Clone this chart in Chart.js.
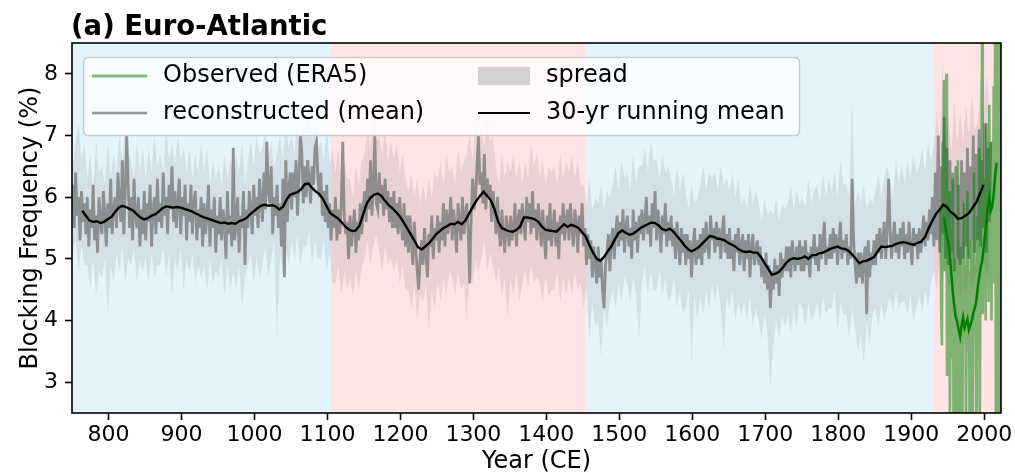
<!DOCTYPE html>
<html>
<head>
<meta charset="utf-8">
<script src="https://cdn.jsdelivr.net/npm/chart.js@4.4.1/dist/chart.umd.min.js"></script>
<style>
  html, body { margin: 0; padding: 0; background: #ffffff; }
  #wrap { width: 1015px; height: 472px; position: relative; }
  canvas { display: block; }
</style>
</head>
<body>
<div id="wrap"><canvas id="chart" width="1015" height="472"></canvas></div>
<script>
// ---- text ----
const titleText = '(a) Euro-Atlantic';
const xLabel = 'Year (CE)';
const yLabel = 'Blocking Frequency (%)';
const legendLabels = ['Observed (ERA5)', 'reconstructed (mean)', 'spread', '30-yr running mean'];

// ---- axes ----
const xTicks = [800, 900, 1000, 1100, 1200, 1300, 1400, 1500, 1600, 1700, 1800, 1900, 2000];
const yTicks = [3, 4, 5, 6, 7, 8];
const xRange = [750, 2023];
const yRange = [2.5, 8.5];

// ---- climate periods shaded behind the data ----
const periodStart = [750, 1105, 1455, 1930];
const periodEnd   = [1105, 1455, 1930, 2023];
const periodKind  = ['cool', 'warm', 'cool', 'warm'];

// ---- reconstructed mean, every 2nd year from 751 ----
const reconStart = 751, reconStep = 2;
const recon = [
  6.2,5.5,6.4,5.7,6.0,5.3,6.1,5.6,5.9,5.4,
  6.0,5.2,5.8,5.5,6.2,5.3,5.7,5.1,6.0,5.6,
  5.4,6.1,5.7,5.2,5.9,5.5,6.3,5.4,5.8,6.0,
  5.5,6.4,5.9,5.6,6.6,5.4,6.1,7.0,6.2,5.5,
  6.0,5.3,6.3,5.7,5.5,6.0,5.2,5.8,5.4,6.1,
  5.3,5.9,5.6,6.2,5.2,5.8,6.0,5.4,6.3,5.6,
  5.9,5.5,6.4,5.7,6.0,5.4,6.2,5.8,6.5,5.6,
  6.1,5.5,5.9,6.3,5.4,6.0,5.7,6.2,5.3,5.9,
  5.6,6.2,5.4,5.9,6.1,5.3,5.8,5.5,6.0,5.2,
  5.9,5.4,5.7,6.2,5.2,5.8,5.5,6.0,5.1,5.7,
  5.4,6.0,5.3,5.8,5.6,5.0,6.1,5.4,5.7,5.2,
  6.8,5.3,5.6,6.0,5.1,5.7,5.5,6.1,4.9,5.8,
  5.5,6.1,5.8,5.4,6.2,5.7,6.0,5.5,6.3,5.9,
  5.6,6.4,5.8,6.9,6.1,5.9,6.5,5.4,6.0,5.7,
  6.2,5.5,5.9,5.2,6.3,4.7,6.6,5.6,6.1,6.4,
  5.8,6.4,6.0,6.6,5.7,6.3,7.0,6.7,5.9,6.5,
  6.0,6.6,6.3,5.9,6.5,6.2,6.8,6.9,6.3,6.0,
  6.4,5.7,6.1,5.6,6.2,5.5,5.9,5.3,5.8,5.5,
  6.0,5.3,5.8,5.4,5.9,6.9,5.7,5.4,5.6,5.0,
  5.7,5.2,5.5,5.8,5.1,5.6,5.3,5.9,5.4,5.8,
  6.1,5.6,6.3,5.8,6.6,5.7,6.2,7.0,5.9,5.8,
  6.4,5.9,6.2,5.7,6.3,5.8,6.1,5.6,6.0,5.5,
  6.1,5.5,5.9,5.4,6.0,5.6,5.3,5.9,5.2,5.7,
  5.1,5.7,5.3,4.9,5.6,5.2,4.8,4.5,5.0,5.3,
  4.9,5.5,5.1,4.7,5.4,5.2,5.7,5.0,5.5,5.3,
  5.7,5.1,5.6,5.3,5.9,5.2,5.8,5.4,5.6,6.0,
  5.3,5.8,5.5,5.1,5.9,5.6,5.3,6.0,5.4,5.7,
  5.9,5.4,4.6,5.7,6.3,5.8,6.0,6.5,7.0,6.2,
  6.4,5.9,6.7,5.8,6.3,6.0,6.2,5.6,6.1,5.8,
  5.4,6.0,5.5,5.2,5.8,5.4,5.1,5.7,5.5,5.2,
  5.7,5.3,5.5,5.9,5.2,5.6,5.8,5.4,5.9,5.6,
  5.3,6.0,5.6,5.9,5.4,6.1,5.5,5.8,5.3,5.9,
  5.6,5.2,5.8,5.4,5.0,5.7,5.3,5.9,5.2,5.5,
  5.8,5.2,5.6,5.0,5.7,5.4,5.9,5.3,5.6,5.8,
  5.3,5.9,5.5,5.2,5.8,5.6,5.1,5.7,5.4,5.9,
  5.2,5.5,4.9,5.4,5.0,5.3,4.7,5.2,4.9,4.6,
  5.2,4.7,5.0,4.5,4.2,4.9,5.1,5.4,4.8,5.3,
  5.5,5.0,5.4,5.7,5.2,5.6,5.3,5.8,5.1,5.5,
  5.7,5.2,5.5,5.0,5.8,5.3,5.6,5.1,5.7,5.4,
  5.8,5.3,5.6,6.0,5.4,5.7,5.2,5.9,5.5,6.1,
  5.3,5.8,5.5,5.1,5.7,5.4,5.9,5.2,5.6,5.3,
  5.7,5.2,5.5,5.0,5.6,5.3,4.9,5.5,5.1,5.4,
  4.9,5.4,5.0,5.3,4.7,5.2,5.5,4.9,5.3,5.0,
  5.4,4.9,5.5,5.1,5.6,5.2,5.0,5.7,5.3,5.5,
  5.1,5.6,5.2,5.5,5.0,5.4,5.7,5.1,5.4,5.0,
  5.5,5.0,5.3,4.8,5.4,5.1,5.5,4.9,5.2,5.4,
  4.8,5.3,5.0,5.4,4.7,5.2,5.4,4.9,5.1,5.3,
  4.9,5.2,4.7,5.0,4.6,5.1,4.5,4.9,4.2,4.8,
  4.5,5.0,4.6,4.9,4.4,5.1,4.7,5.0,4.8,5.2,
  4.8,5.2,4.7,5.3,5.0,4.8,5.2,4.9,5.3,4.8,
  5.2,4.8,5.3,4.9,5.1,4.7,5.2,5.0,5.4,4.9,
  5.2,4.8,5.4,5.0,5.3,5.6,4.9,5.2,5.0,5.4,
  5.0,5.5,5.1,5.4,4.9,5.3,5.6,5.0,5.3,5.1,
  5.4,4.9,5.2,5.0,6.3,5.3,4.9,4.6,5.1,4.7,
  5.1,4.6,5.0,5.2,4.1,5.3,4.7,5.1,4.9,5.3,
  4.9,5.4,5.1,5.5,5.0,5.3,5.6,5.0,5.4,6.3,
  5.5,5.0,5.3,5.6,5.1,5.4,5.0,5.5,5.2,5.6,
  5.0,5.4,5.1,5.6,5.2,4.9,5.5,5.2,5.4,5.0,
  5.5,5.1,5.4,5.7,5.2,5.6,5.3,5.8,5.4,6.0,
  5.2,6.4,5.3,7.0,5.1,6.5,5.4,7.3,5.0,6.8,
  4.9,6.6,5.1,6.3,4.8,6.5,5.0,6.2,4.9,6.6,
  5.0,6.4,5.2,6.8,5.0,6.5,5.3,7.0,5.1,6.7,
  5.3,7.1,5.2,6.6,5.5,7.2,5.1,6.8,5.6,6.9
];

// ---- ensemble spread (lower / upper edge), every 4th year from 751 ----
const spreadStart = 751, spreadStep = 4;
const spreadLow = [
  5.1,5.3,4.8,5.2,4.9, 4.9,4.5,5.0,4.4,4.8, 4.7,5.0,4.1,4.9,4.6, 5.1,4.8,5.2,4.6,5.0,
  4.9,5.2,4.6,5.0,4.8, 5.0,4.6,5.1,4.7,4.9, 4.9,5.2,4.7,5.1,4.4, 5.0,4.8,5.2,4.5,5.0,
  4.8,5.1,4.6,4.9,4.7, 4.9,4.5,5.0,4.6,4.8, 4.7,5.0,4.4,4.9,4.5, 4.8,4.5,4.9,4.2,4.7,
  4.9,5.1,4.6,5.0,4.7, 4.9,5.2,4.7,5.0,5.3, 3.7,5.1,4.8,5.2,4.9, 5.3,5.0,5.4,4.9,5.2,
  5.2,5.5,4.9,5.3,5.0, 5.0,5.3,4.8,5.1,4.6, 4.6,4.9,4.4,4.8,4.5, 4.7,4.4,4.8,4.5,4.9,
  5.0,5.3,4.9,5.2,5.4, 5.1,4.8,5.2,4.9,5.0, 4.8,5.0,4.6,4.9,4.5, 4.5,4.2,4.6,4.0,4.4,
  4.3,4.6,3.8,4.5,4.2, 4.6,4.3,4.7,4.4,4.8, 4.7,4.4,4.8,4.5,4.6, 4.0,4.8,4.6,5.0,4.8,
  5.0,5.3,4.8,5.1,4.9, 4.6,4.9,4.4,4.7,4.0, 4.7,4.4,4.8,4.3,4.6, 4.8,4.5,4.9,4.6,4.7,
  4.6,4.3,4.7,4.4,4.5, 4.5,4.8,4.3,4.7,4.4, 4.7,4.4,4.8,4.5,4.6, 4.2,4.5,3.7,4.3,3.9,
  4.0,3.4,4.2,3.9,4.3, 4.5,4.2,4.6,4.3,4.7, 4.6,4.3,4.7,4.4,3.7, 4.6,4.9,4.4,4.8,4.5,
  4.5,4.8,4.4,4.7,4.3, 4.4,4.7,4.2,4.5,4.1, 4.2,4.5,3.3,4.4,4.0, 4.4,4.1,4.5,4.2,4.6,
  4.3,4.6,4.2,3.5,4.4, 4.2,4.5,4.0,4.3,4.1, 4.3,4.0,4.4,3.9,4.2, 4.0,3.7,4.1,3.8,2.9,
  3.6,4.0,3.7,4.1,3.9, 4.1,3.8,4.2,3.9,4.3, 4.2,3.9,4.3,4.0,4.1, 4.3,4.0,4.4,4.1,4.2,
  4.2,4.5,3.8,4.3,4.1, 4.1,3.7,4.2,3.9,3.5, 3.8,3.3,4.0,3.6,4.1, 4.2,3.9,4.3,4.0,4.2,
  4.4,4.1,4.5,4.2,4.3, 4.3,4.1,4.4,4.0,4.2, 4.4,4.1,4.5,4.2,4.6, 4.8,4.5,5.0,4.6,4.9,
  4.5,4.8,4.4,4.7,4.3, 4.6,4.4,4.8,4.5,4.7, 4.8,4.6,5.0,4.7,4.9
];
const spreadHigh = [
  6.5,6.9,7.2,6.6,6.9, 6.3,6.7,6.1,6.9,6.4, 6.5,6.2,6.9,6.3,6.7, 6.4,7.0,6.6,7.2,6.7,
  6.6,6.3,6.9,6.4,6.8, 6.3,6.8,6.4,7.0,6.5, 6.7,6.4,7.1,6.6,6.9, 6.5,7.0,6.6,6.8,6.4,
  6.8,6.3,6.7,6.4,6.9, 6.4,6.8,6.2,6.6,6.3, 6.5,6.2,6.7,6.3,6.6, 6.3,6.7,6.4,6.9,6.2,
  6.6,6.9,6.5,7.0,6.7, 6.8,7.1,6.6,6.9,6.5, 6.7,7.0,6.6,7.2,6.8, 7.0,6.7,7.3,6.9,7.2,
  7.1,7.4,6.9,7.3,6.8, 6.9,6.6,7.1,6.5,6.8, 6.4,6.8,6.2,6.6,6.3, 6.3,6.0,6.5,6.2,6.6,
  6.7,7.1,6.8,7.4,6.9, 7.0,6.7,7.1,6.6,6.9, 6.6,6.9,6.4,6.7,6.3, 6.1,6.4,6.0,6.3,5.9,
  6.2,5.9,6.3,6.0,6.4, 6.3,6.6,6.2,6.7,6.4, 6.5,6.2,6.8,6.4,6.6, 6.7,7.0,6.6,7.2,6.8,
  7.1,6.8,7.3,6.9,7.0, 6.5,6.2,6.7,6.3,6.6, 6.4,6.7,6.3,6.6,6.2, 6.6,6.3,6.9,6.5,6.7,
  6.3,6.6,6.2,6.5,6.4, 6.5,6.2,6.7,6.3,6.6, 6.4,6.7,6.3,6.6,6.2, 6.2,5.9,6.3,5.8,6.0,
  5.9,6.2,5.8,6.1,6.0, 6.2,6.5,6.1,6.6,6.3, 6.4,6.1,6.7,6.2,6.5, 6.5,6.8,6.4,6.9,6.6,
  6.6,6.3,6.7,6.4,6.5, 6.3,6.0,6.5,6.1,6.4, 6.1,5.8,6.2,5.9,6.0, 6.2,6.5,6.1,6.4,6.3,
  6.4,6.1,6.5,6.2,6.3, 6.1,6.4,6.0,6.3,5.9, 6.0,5.8,6.2,5.9,6.1, 5.9,5.6,6.0,5.7,5.8,
  5.7,6.0,5.6,5.9,5.8, 5.9,6.2,5.8,6.1,5.9, 6.0,5.8,6.3,5.9,6.1, 6.2,5.9,6.4,6.0,6.3,
  6.1,6.4,6.0,6.6,6.2, 6.2,6.0,7.6,5.9,6.1, 5.9,6.2,5.8,6.0,5.9, 6.1,6.4,6.0,6.3,6.5,
  6.3,6.0,6.6,6.2,6.5, 6.2,6.6,6.3,6.7,6.4, 6.5,6.8,6.4,6.9,6.6, 6.8,7.4,6.9,8.2,7.0,
  7.3,6.7,7.6,6.9,7.4, 6.9,7.5,7.0,7.7,7.1, 7.2,7.9,7.3,8.0,7.5
];

// ---- 30-year running mean of the reconstruction, every 5th year from 764 ----
const meanStart = 764, meanStep = 5;
const runningMean = [
  5.78,5.70,5.62,5.60,5.61,5.58,5.60,5.64,5.68,5.76,5.83,5.86,5.84,5.81,5.78,5.72,5.67,5.64,5.66,5.70,
  5.72,5.77,5.82,5.85,5.84,5.83,5.84,5.83,5.81,5.79,5.77,5.74,5.71,5.68,5.66,5.64,5.62,5.60,5.58,5.59,
  5.57,5.58,5.57,5.61,5.63,5.66,5.72,5.77,5.82,5.86,5.88,5.86,5.87,5.85,5.80,5.84,5.96,6.04,6.06,6.08,
  6.13,6.21,6.22,6.15,6.09,6.05,5.97,5.85,5.74,5.70,5.66,5.60,5.53,5.48,5.45,5.46,5.54,5.72,5.90,5.99,
  6.04,6.06,6.02,5.94,5.87,5.82,5.76,5.69,5.60,5.50,5.40,5.30,5.19,5.15,5.20,5.25,5.32,5.40,5.45,5.50,
  5.53,5.57,5.56,5.60,5.56,5.62,5.73,5.84,5.94,6.02,6.09,6.02,5.95,5.80,5.60,5.50,5.47,5.45,5.44,5.47,
  5.52,5.67,5.67,5.66,5.64,5.60,5.52,5.47,5.46,5.45,5.44,5.50,5.56,5.52,5.55,5.53,5.50,5.43,5.36,5.22,
  5.10,5.00,4.97,5.03,5.12,5.20,5.32,5.42,5.46,5.42,5.39,5.41,5.45,5.50,5.53,5.56,5.59,5.58,5.54,5.48,
  5.46,5.49,5.44,5.37,5.30,5.22,5.16,5.12,5.15,5.19,5.25,5.31,5.37,5.36,5.33,5.32,5.30,5.26,5.23,5.20,
  5.15,5.12,5.11,5.12,5.10,5.10,5.03,4.93,4.84,4.74,4.76,4.79,4.86,4.94,4.99,5.01,5.00,5.01,5.04,5.00,
  5.06,5.06,5.09,5.10,5.13,5.16,5.18,5.20,5.17,5.16,5.13,5.07,5.00,4.93,4.96,4.97,5.00,5.03,5.12,5.20,
  5.19,5.20,5.21,5.24,5.26,5.27,5.26,5.24,5.23,5.26,5.28,5.36,5.50,5.62,5.73,5.80,5.88,5.84,5.76,5.72,
  5.65,5.66,5.70,5.74,5.83,5.91,6.05,6.20
];

// ---- ERA5 observations, yearly from 1940 ----
const obsStart = 1940;
const observed = [
  5.8,4.2,3.6,6.9,5.1,7.9,4.8,6.3,8.0,3.1,
  5.6,4.6,6.1,2.2,4.9,5.5,3.4,6.4,2.0,4.3,
  5.0,3.6,2.1,4.7,6.6,3.9,2.2,4.4,5.2,3.3,
  1.9,4.6,5.9,3.7,4.9,2.1,4.2,6.1,3.5,4.8,
  2.0,4.1,5.3,3.2,2.2,4.6,6.4,3.8,4.9,2.1,
  4.4,5.7,3.6,6.8,2.3,5.2,4.5,8.9,4.1,5.8,
  4.6,6.3,4.0,7.2,5.1,6.6,4.3,7.5,5.2,6.4,
  4.0,6.9,5.5,7.8,4.6,9.2,2.0,9.6,2.2,9.4,
  1.8,9.0,2.4
];

// ---- running mean of the observations, every 2nd year from 1945 ----
const obsMeanStart = 1945, obsMeanStep = 2;
const observedMean = [
  5.68,5.50,5.35,5.25,5.05,4.75,4.45,4.23,4.06,3.98,3.85,3.74,3.92,4.05,3.88,3.95,4.02,3.85,3.92,4.00,
  4.12,4.20,4.30,4.52,4.70,4.85,4.95,5.15,5.37,5.60,5.85,6.00,5.78,5.85,6.05,6.35,6.56
];

// ---- styling ----
const FONT = '"DejaVu Sans", sans-serif';
const COOL_BG = '#e3f4fc';
const WARM_BG = '#ffe3e5';
const SPREAD_FILL = 'rgba(128,128,128,0.17)';
const RECON_COLOR = 'rgba(128,128,128,0.85)';
const OBS_COLOR = 'rgba(0,128,0,0.5)';
const MEAN_COLOR = '#000000';
const OBS_MEAN_COLOR = '#008000';

function series(start, step, values) {
  return values.map((v, i) => ({ x: start + i * step, y: v }));
}

const decor = {
  id: 'decor',
  beforeDatasetsDraw(chart) {
    const { ctx, chartArea: a, scales: { x } } = chart;
    ctx.save();
    for (let i = 0; i < periodStart.length; i++) {
      const x0 = Math.max(a.left, x.getPixelForValue(periodStart[i]));
      const x1 = Math.min(a.right, x.getPixelForValue(periodEnd[i]));
      ctx.fillStyle = periodKind[i] === 'warm' ? WARM_BG : COOL_BG;
      ctx.fillRect(x0, a.top, x1 - x0, a.bottom - a.top);
    }
    ctx.restore();
  },
  afterDraw(chart) {
    const { ctx, chartArea: a } = chart;
    ctx.save();
    // frame
    ctx.strokeStyle = '#000';
    ctx.lineWidth = 1.6;
    ctx.strokeRect(a.left, a.top, a.right - a.left, a.bottom - a.top);

    // legend box
    const bx = 83.5, by = 57.5, bw = 716, bh = 78, r = 5;
    ctx.beginPath();
    ctx.moveTo(bx + r, by);
    ctx.lineTo(bx + bw - r, by);
    ctx.quadraticCurveTo(bx + bw, by, bx + bw, by + r);
    ctx.lineTo(bx + bw, by + bh - r);
    ctx.quadraticCurveTo(bx + bw, by + bh, bx + bw - r, by + bh);
    ctx.lineTo(bx + r, by + bh);
    ctx.quadraticCurveTo(bx, by + bh, bx, by + bh - r);
    ctx.lineTo(bx, by + r);
    ctx.quadraticCurveTo(bx, by, bx + r, by);
    ctx.closePath();
    ctx.fillStyle = 'rgba(255,255,255,0.8)';
    ctx.fill();
    ctx.strokeStyle = '#cccccc';
    ctx.lineWidth = 1.5;
    ctx.stroke();

    const rowY = [76, 113];
    const col1 = 92, col2 = 478, handleW = 55, textGap = 16;
    ctx.lineCap = 'butt';
    ctx.strokeStyle = OBS_COLOR; ctx.lineWidth = 3;
    ctx.beginPath(); ctx.moveTo(col1, rowY[0]); ctx.lineTo(col1 + handleW, rowY[0]); ctx.stroke();
    ctx.strokeStyle = RECON_COLOR; ctx.lineWidth = 2.5;
    ctx.beginPath(); ctx.moveTo(col1, rowY[1]); ctx.lineTo(col1 + handleW, rowY[1]); ctx.stroke();
    ctx.fillStyle = 'rgba(128,128,128,0.35)';
    ctx.fillRect(col2, rowY[0] - 9, 52, 18);
    ctx.strokeStyle = MEAN_COLOR; ctx.lineWidth = 2.2;
    ctx.beginPath(); ctx.moveTo(col2, rowY[1]); ctx.lineTo(col2 + 52, rowY[1]); ctx.stroke();

    ctx.fillStyle = '#000';
    ctx.font = '24px ' + FONT;
    ctx.textBaseline = 'middle';
    ctx.textAlign = 'left';
    ctx.fillText(legendLabels[0], col1 + handleW + textGap, rowY[0]);
    ctx.fillText(legendLabels[1], col1 + handleW + textGap, rowY[1]);
    ctx.fillText(legendLabels[2], col2 + 52 + textGap, rowY[0]);
    ctx.fillText(legendLabels[3], col2 + 52 + textGap, rowY[1]);

    // title
    ctx.font = 'bold 27.5px ' + FONT;
    ctx.textBaseline = 'alphabetic';
    ctx.fillText(titleText, a.left - 1, 35);

    // axis titles
    ctx.font = '24px ' + FONT;
    ctx.textAlign = 'center';
    ctx.fillText(xLabel, (a.left + a.right) / 2, 468);
    ctx.save();
    ctx.translate(36.5, (a.top + a.bottom) / 2);
    ctx.rotate(-Math.PI / 2);
    ctx.fillText(yLabel, 0, 0);
    ctx.restore();
    ctx.restore();
  }
};

Chart.defaults.font.family = FONT;

new Chart(document.getElementById('chart'), {
  type: 'line',
  data: {
    datasets: [
      { label: 'spread-low', data: series(spreadStart, spreadStep, spreadLow),
        borderWidth: 0, pointRadius: 0, fill: false, order: 6, clip: 0 },
      { label: legendLabels[2], data: series(spreadStart, spreadStep, spreadHigh),
        borderWidth: 0, pointRadius: 0, backgroundColor: SPREAD_FILL, fill: 0, order: 5, clip: 0 },
      { label: legendLabels[1], data: series(reconStart, reconStep, recon),
        borderColor: RECON_COLOR, borderWidth: 2.8, pointRadius: 0, fill: false, order: 4, clip: 0 },
      { label: legendLabels[0], data: series(obsStart, 1, observed),
        borderColor: OBS_COLOR, borderWidth: 2.6, pointRadius: 0, fill: false, order: 3, clip: 0 },
      { label: legendLabels[3], data: series(meanStart, meanStep, runningMean),
        borderColor: MEAN_COLOR, borderWidth: 2.4, pointRadius: 0, fill: false, order: 2, clip: 0 },
      { label: 'observed running mean', data: series(obsMeanStart, obsMeanStep, observedMean),
        borderColor: OBS_MEAN_COLOR, borderWidth: 2.5, pointRadius: 0, fill: false, order: 1, clip: 0 }
    ]
  },
  options: {
    responsive: false,
    animation: false,
    events: [],
    layout: { padding: { top: 43, right: 14, left: 0, bottom: 0 } },
    plugins: { legend: { display: false }, tooltip: { enabled: false }, title: { display: false } },
    elements: { line: { tension: 0, borderJoinStyle: 'miter' } },
    scales: {
      x: {
        type: 'linear', min: xRange[0], max: xRange[1],
        afterBuildTicks: s => { s.ticks = xTicks.map(v => ({ value: v })); },
        afterFit: s => { s.height = 59; },
        ticks: { color: '#000', font: { size: 22 }, padding: 2, maxRotation: 0, autoSkip: false,
                 callback: v => String(v) },
        grid: { drawOnChartArea: false, drawTicks: true, tickLength: 7, tickWidth: 1.6, tickColor: '#000' },
        border: { display: false }
      },
      y: {
        type: 'linear', min: yRange[0], max: yRange[1],
        afterBuildTicks: s => { s.ticks = yTicks.map(v => ({ value: v })); },
        afterFit: s => { s.width = 72; },
        ticks: { color: '#000', font: { size: 22 }, padding: 7, callback: v => String(v) },
        grid: { drawOnChartArea: false, drawTicks: true, tickLength: 7, tickWidth: 1.6, tickColor: '#000' },
        border: { display: false }
      }
    }
  },
  plugins: [decor]
});
</script>
</body>
</html>
